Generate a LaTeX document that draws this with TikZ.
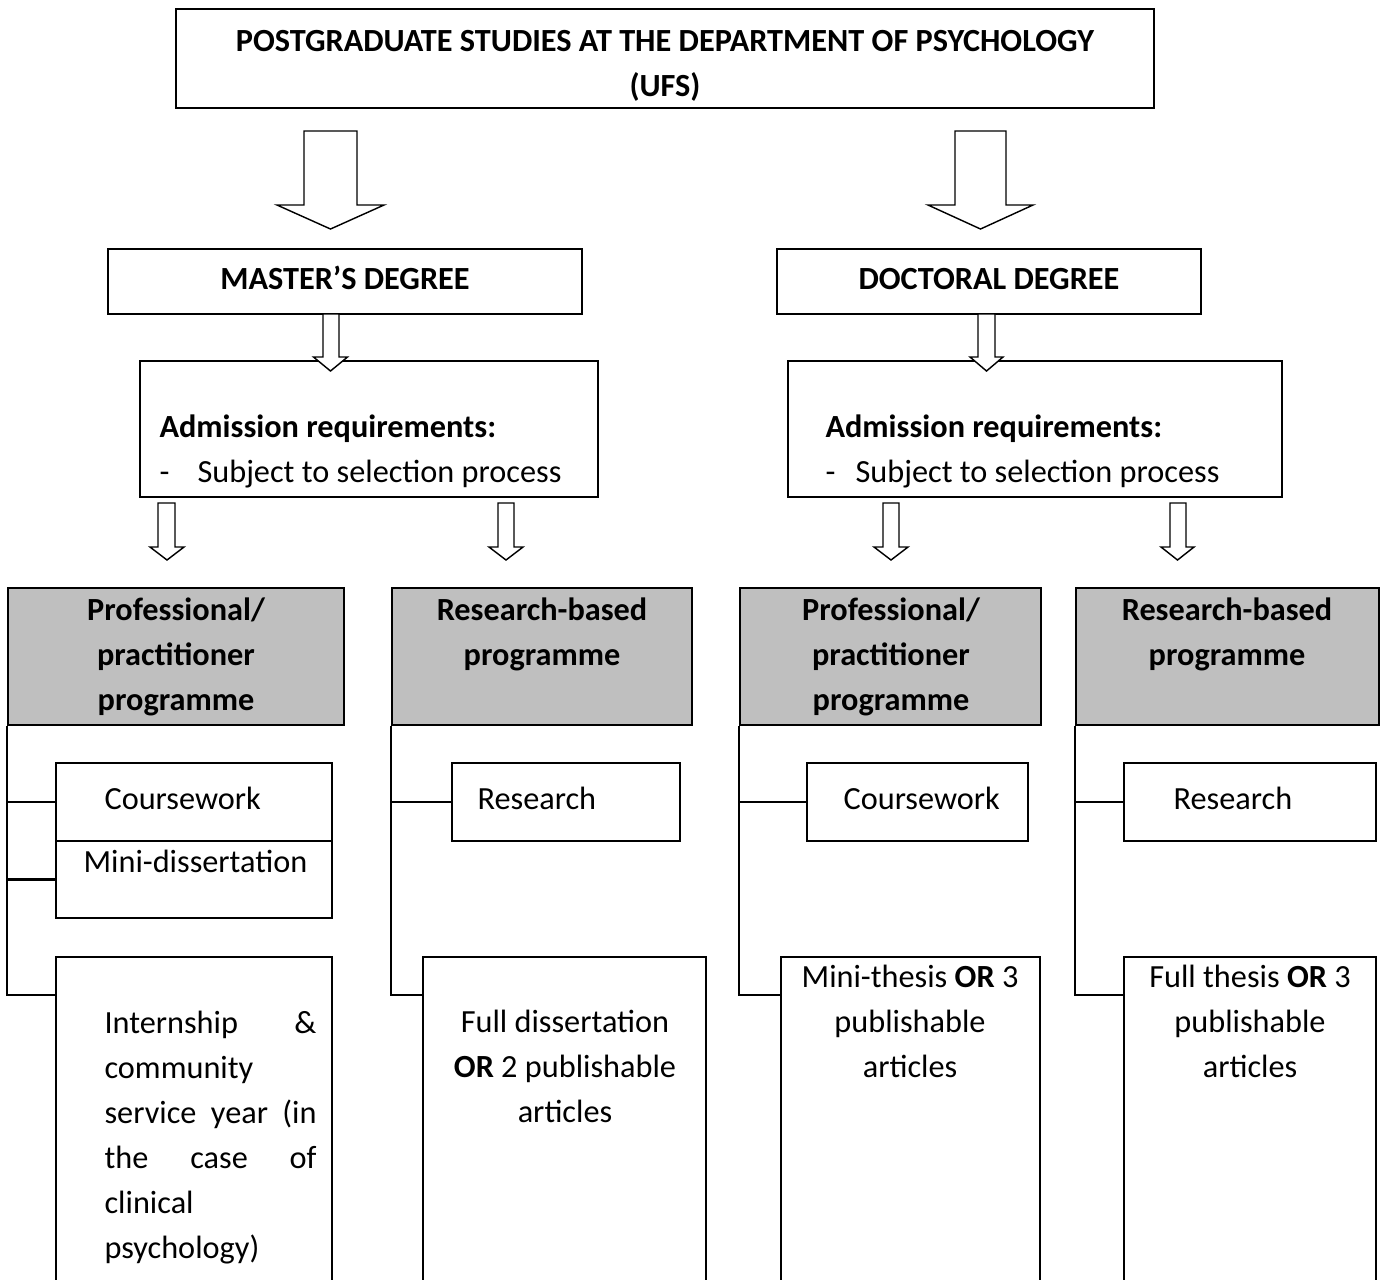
\documentclass[tikz,border=0pt]{standalone}
\usepackage{fontspec}
\setmainfont{Carlito}
\usepackage{xcolor}
\usepackage{tikz}
\usetikzlibrary{fit,calc}

\definecolor{progrey}{RGB}{191,191,191}

\tikzset{
  box/.style={draw, line width=0.75pt, fill=white, inner sep=0pt},
  greybox/.style={box, fill=progrey},
  blockarrow/.style={draw, line width=0.5pt, fill=white},
  link/.style={line width=0.75pt},
  txt/.style={inner sep=0pt, font=\fontsize{11.3}{15.75}\selectfont},
  btxt/.style={inner sep=0pt, font=\fontsize{11.3}{15.75}\selectfont\bfseries},
}

\begin{document}
\begin{tikzpicture}[x=0.35pt,y=0.35pt,yscale=-1,xscale=1]
\useasboundingbox (0,0) rectangle (1380,1279);

%Shape: Rectangle
\node [box, fit={(176,9) (1154,108)}] (title) {};
\node [box, fit={(108,249) (582,314)}] (master) {};
\node [box, fit={(777,249) (1201,314)}] (doctor) {};
\node [box, fit={(140,361) (598,497)}] (admA) {};
\node [box, fit={(788,361) (1282,497)}] (admB) {};
%Shape: Rectangle (grey)
\node [greybox, fit={(8,588) (344,725)}] (profA) {};
\node [greybox, fit={(392,588) (692,725)}] (resA) {};
\node [greybox, fit={(740,588) (1041,725)}] (profB) {};
\node [greybox, fit={(1076,588) (1379,725)}] (resB) {};
%Shape: Rectangle (components)
\node [box, fit={(56,763) (332,841)}] (courseA) {};
\node [box, fit={(56,841) (332,918)}] (miniA) {};
\node [box, fit={(56,957) (332,1295)}] (intern) {};
\node [box, fit={(452,763) (680,841)}] (researchA) {};
\node [box, fit={(423,957) (706,1295)}] (fulldiss) {};
\node [box, fit={(807,763) (1028,841)}] (courseB) {};
\node [box, fit={(781,957) (1040,1295)}] (minithesis) {};
\node [box, fit={(1124,763) (1376,841)}] (researchB) {};
\node [box, fit={(1124,957) (1376,1295)}] (fullthesis) {};

%Connector Lines
\draw [link] (profA.south west) |- ($(intern.north west)+(0,39)$);
\draw [link] (profA.south west |- courseA.west) -- (courseA.west);
\draw [link] (profA.south west |- miniA.west) -- (miniA.west);
\draw [link] (resA.south west) |- ($(fulldiss.north west)+(0,39)$);
\draw [link] (resA.south west |- researchA.west) -- (researchA.west);
\draw [link] (profB.south west) |- ($(minithesis.north west)+(0,39)$);
\draw [link] (profB.south west |- courseB.west) -- (courseB.west);
\draw [link] (resB.south west) |- ($(fullthesis.north west)+(0,39)$);
\draw [link] (resB.south west |- researchB.west) -- (researchB.west);

%Down Arrow
\draw [blockarrow] (304,131) -- (357,131) -- (357,205) -- (384,205) -- (330.5,229) -- (277,205) -- (304,205) -- cycle ;
%Down Arrow
\draw [blockarrow] (955,131) -- (1006,131) -- (1006,205) -- (1033,205) -- (980.5,229) -- (928,205) -- (955,205) -- cycle ;
%Down Arrow
\draw [blockarrow] (323,314) -- (339,314) -- (339,357) -- (347.5,357) -- (330.5,371) -- (313.5,357) -- (323,357) -- cycle ;
%Down Arrow
\draw [blockarrow] (978,314) -- (995,314) -- (995,357) -- (1003,357) -- (986.5,371) -- (970,357) -- (978,357) -- cycle ;
%Down Arrow
\draw [blockarrow] (158,503) -- (175,503) -- (175,547) -- (184,547) -- (167,560) -- (150,547) -- (158,547) -- cycle ;
%Down Arrow
\draw [blockarrow] (498,503) -- (514,503) -- (514,547) -- (523,547) -- (506,560) -- (489,547) -- (498,547) -- cycle ;
%Down Arrow
\draw [blockarrow] (883,503) -- (899,503) -- (899,547) -- (908,547) -- (891,560) -- (874,547) -- (883,547) -- cycle ;
%Down Arrow
\draw [blockarrow] (1170,503) -- (1186,503) -- (1186,547) -- (1194,547) -- (1177.5,560) -- (1161,547) -- (1170,547) -- cycle ;

% Text Node
\node [btxt, anchor=base, text width=330pt, align=flush center] (titletxt) at (665,51) {POSTGRADUATE STUDIES AT THE DEPARTMENT OF PSYCHOLOGY\\(UFS)};
% Text Node
\node [btxt, anchor=base] (mastertxt) at (345,289) {MASTER’S DEGREE};
% Text Node
\node [btxt, anchor=base] (doctortxt) at (989,289) {DOCTORAL DEGREE};
% Text Node
\node [txt, anchor=base west, text width=160pt, align=flush left] (admAtxt) at (159,437) {\textbf{Admission requirements:}\\\makebox[13.3pt][l]{-}Subject to selection process};
% Text Node
\node [txt, anchor=base west, text width=170pt, align=flush left] (admBtxt) at (825,437) {\textbf{Admission requirements:}\\\makebox[10.5pt][l]{-}Subject to selection process};
% Text Node
\node [btxt, anchor=base, text width=110pt, align=flush center] (profAtxt) at (176,620) {Professional/\\practitioner\\programme};
% Text Node
\node [btxt, anchor=base, text width=100pt, align=flush center] (resAtxt) at (542,620) {Research-based\\programme};
% Text Node
\node [btxt, anchor=base, text width=100pt, align=flush center] (profBtxt) at (891,620) {Professional/\\practitioner\\programme};
% Text Node
\node [btxt, anchor=base, text width=100pt, align=flush center] (resBtxt) at (1227,620) {Research-based\\programme};
% Text Node
\node [txt, anchor=base west] (courseAtxt) at (104,809) {Coursework};
% Text Node
\node [txt, anchor=base west] (miniAtxt) at (83,872) {Mini-dissertation};
% Text Node
\node [txt, anchor=base west, text width=74.2pt, align=flush left] (interntxt) at (104,1033) {Internship\hfill\&\\community\\service\hfill year\hfill (in\\the\hfill case\hfill of\\clinical\\psychology)};
% Text Node
\node [txt, anchor=base west] (researchAtxt) at (477,809) {Research};
% Text Node
\node [txt, anchor=base, text width=98pt, align=flush center] (fulldisstxt) at (565,1032) {Full dissertation\\\textbf{OR} 2 publishable\\articles};
% Text Node
\node [txt, anchor=base west] (courseBtxt) at (843,809) {Coursework};
% Text Node
\node [txt, anchor=base, text width=88pt, align=flush center] (minithesistxt) at (910,987) {Mini-thesis \textbf{OR} 3\\publishable\\articles};
% Text Node
\node [txt, anchor=base west] (researchBtxt) at (1173,809) {Research};
% Text Node
\node [txt, anchor=base, text width=86pt, align=flush center] (fullthesistxt) at (1250,987) {Full thesis \textbf{OR} 3\\publishable\\articles};

\end{tikzpicture}
\end{document}
